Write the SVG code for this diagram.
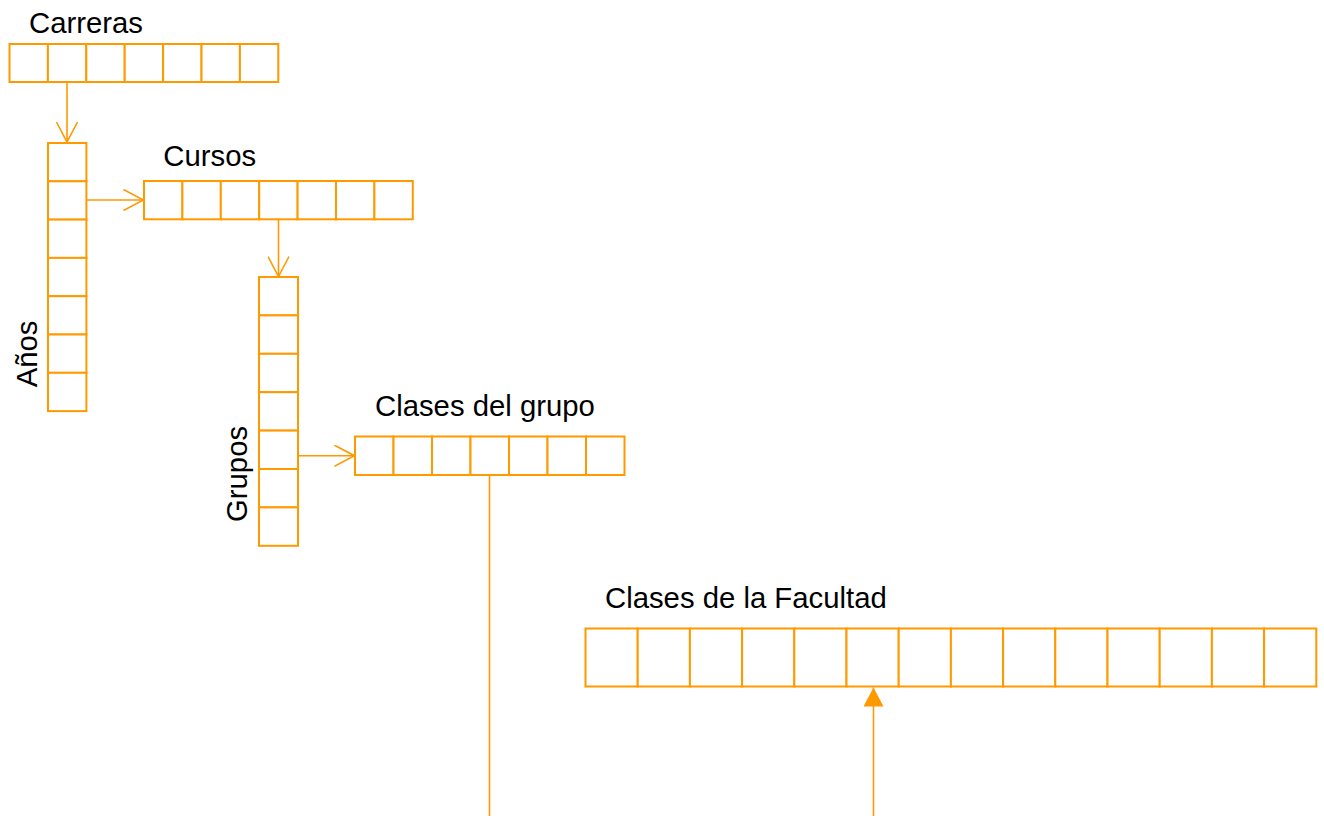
<svg xmlns="http://www.w3.org/2000/svg" width="1324" height="816" viewBox="0 0 1324 816">
<style>
.c{fill:#fff;stroke:#FF9900;stroke-width:2}
.t{font-family:"Liberation Sans",Arial,sans-serif;font-size:29.3px;fill:#000}
.k{fill:none;stroke:#FF9900;stroke-width:1.6}
</style>
<defs>
<marker id="open" viewBox="0 0 22 22" refX="21" refY="11" markerWidth="22" markerHeight="22" markerUnits="userSpaceOnUse" orient="auto">
<path d="M1,0.5 L21,11 L1,21.5" fill="none" stroke="#FF9900" stroke-width="1.6"/>
</marker>
<marker id="fill" viewBox="0 0 19 20" refX="19" refY="10" markerWidth="19" markerHeight="20" markerUnits="userSpaceOnUse" orient="auto">
<path d="M0,0 L19,10 L0,20 Z" fill="#FF9900"/>
</marker>
</defs>
<rect width="1324" height="816" fill="#fff"/>
<g id="carreras">
<text class="t" x="29" y="32.5">Carreras</text>
<rect class="c" x="9.5" y="44" width="38.4" height="38"/>
<rect class="c" x="47.9" y="44" width="38.4" height="38"/>
<rect class="c" x="86.3" y="44" width="38.4" height="38"/>
<rect class="c" x="124.7" y="44" width="38.4" height="38"/>
<rect class="c" x="163.1" y="44" width="38.4" height="38"/>
<rect class="c" x="201.5" y="44" width="38.4" height="38"/>
<rect class="c" x="239.9" y="44" width="38.4" height="38"/>
</g>
<g id="anos">
<text class="t" transform="translate(37.3,387.3) rotate(-90)">Años</text>
<rect class="c" x="48" y="143" width="38.4" height="38.3"/>
<rect class="c" x="48" y="181.3" width="38.4" height="38.3"/>
<rect class="c" x="48" y="219.6" width="38.4" height="38.3"/>
<rect class="c" x="48" y="257.9" width="38.4" height="38.3"/>
<rect class="c" x="48" y="296.2" width="38.4" height="38.3"/>
<rect class="c" x="48" y="334.5" width="38.4" height="38.3"/>
<rect class="c" x="48" y="372.8" width="38.4" height="38.3"/>
</g>
<g id="cursos">
<text class="t" x="163.3" y="166">Cursos</text>
<rect class="c" x="144" y="181" width="38.4" height="38.3"/>
<rect class="c" x="182.4" y="181" width="38.4" height="38.3"/>
<rect class="c" x="220.8" y="181" width="38.4" height="38.3"/>
<rect class="c" x="259.2" y="181" width="38.4" height="38.3"/>
<rect class="c" x="297.6" y="181" width="38.4" height="38.3"/>
<rect class="c" x="336" y="181" width="38.4" height="38.3"/>
<rect class="c" x="374.4" y="181" width="38.4" height="38.3"/>
</g>
<g id="grupos">
<text class="t" transform="translate(246.5,522) rotate(-90)">Grupos</text>
<rect class="c" x="259" y="277" width="39" height="38.4"/>
<rect class="c" x="259" y="315.4" width="39" height="38.4"/>
<rect class="c" x="259" y="353.8" width="39" height="38.4"/>
<rect class="c" x="259" y="392.2" width="39" height="38.4"/>
<rect class="c" x="259" y="430.6" width="39" height="38.4"/>
<rect class="c" x="259" y="469" width="39" height="38.4"/>
<rect class="c" x="259" y="507.4" width="39" height="38.4"/>
</g>
<g id="clases-grupo">
<text class="t" x="375" y="416">Clases del grupo</text>
<rect class="c" x="355" y="436.5" width="38.5" height="38.5"/>
<rect class="c" x="393.5" y="436.5" width="38.5" height="38.5"/>
<rect class="c" x="432" y="436.5" width="38.5" height="38.5"/>
<rect class="c" x="470.5" y="436.5" width="38.5" height="38.5"/>
<rect class="c" x="509" y="436.5" width="38.5" height="38.5"/>
<rect class="c" x="547.5" y="436.5" width="38.5" height="38.5"/>
<rect class="c" x="586" y="436.5" width="38.5" height="38.5"/>
</g>
<g id="clases-facultad">
<text class="t" x="605" y="607.5">Clases de la Facultad</text>
<rect class="c" x="585.5" y="628.5" width="52.2" height="58"/>
<rect class="c" x="637.7" y="628.5" width="52.2" height="58"/>
<rect class="c" x="689.9" y="628.5" width="52.2" height="58"/>
<rect class="c" x="742.1" y="628.5" width="52.2" height="58"/>
<rect class="c" x="794.3" y="628.5" width="52.2" height="58"/>
<rect class="c" x="846.5" y="628.5" width="52.2" height="58"/>
<rect class="c" x="898.7" y="628.5" width="52.2" height="58"/>
<rect class="c" x="950.9" y="628.5" width="52.2" height="58"/>
<rect class="c" x="1003.1" y="628.5" width="52.2" height="58"/>
<rect class="c" x="1055.3" y="628.5" width="52.2" height="58"/>
<rect class="c" x="1107.5" y="628.5" width="52.2" height="58"/>
<rect class="c" x="1159.7" y="628.5" width="52.2" height="58"/>
<rect class="c" x="1211.9" y="628.5" width="52.2" height="58"/>
<rect class="c" x="1264.1" y="628.5" width="52.2" height="58"/>
</g>
<g id="connectors">
<line class="k" x1="67" y1="82" x2="67" y2="142" marker-end="url(#open)"/>
<line class="k" x1="86.4" y1="200" x2="143.5" y2="200" marker-end="url(#open)"/>
<line class="k" x1="278.5" y1="219.3" x2="278.5" y2="276.5" marker-end="url(#open)"/>
<line class="k" x1="298" y1="455.7" x2="354.5" y2="455.7" marker-end="url(#open)"/>
<line class="k" x1="489.5" y1="475" x2="489.5" y2="816"/>
<line class="k" x1="873.5" y1="816" x2="873.5" y2="687.5" marker-end="url(#fill)"/>
</g>
</svg>
